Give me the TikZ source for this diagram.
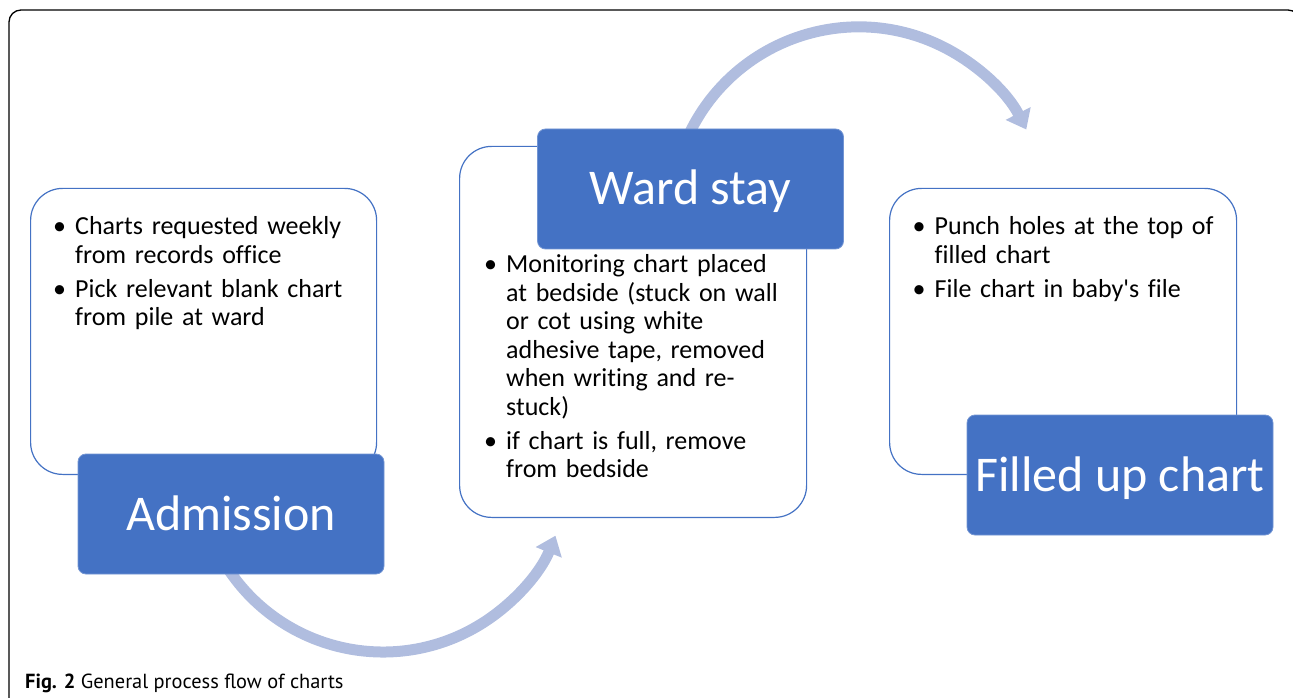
\documentclass[tikz,border=0pt]{standalone}
\usepackage{fontspec}
\setmainfont{Carlito}[Ligatures={TeXOff,CommonOff}]
\newfontfamily\capfont{PT Sans}
\usetikzlibrary{arrows.meta}

\newcommand\bitem{\par\hangindent=22pt\hangafter=1\noindent\strut\makebox[22pt][l]{\textbullet}}

\begin{document}
\begin{tikzpicture}[x=1pt,y=1pt,>=Latex]

\definecolor{boxblue}{RGB}{68,114,196}
\definecolor{arcblue}{RGB}{176,189,223}

\tikzset{
  stepbox/.style={draw=boxblue, line width=1.2pt, fill=white, rounded corners=32pt, anchor=south west},
  headbox/.style={fill=boxblue, draw=boxblue!75!white, line width=0.8pt, rounded corners=8pt,
    minimum width=306pt, minimum height=120pt, inner sep=0pt, text=white,
    font=\fontsize{50}{60}\selectfont, text height=36pt, text depth=4pt},
  notes/.style={anchor=north west, inner sep=0pt, text width=310pt, align=left,
    font=\fontsize{26}{28.5}\selectfont, execute at begin node={\setlength\parskip{5.5pt}}},
  flow/.style={draw=arcblue, line width=11pt, -{Triangle[width=27pt,length=18pt]}}
}

\useasboundingbox (0,0) rectangle (1293,697);
\clip (0,0) rectangle (1293,697);

% frame
\draw[line width=1.3pt, rounded corners=12pt] (9,687) rectangle (1300,-20);

\coordinate (c1) at (383,231);
\coordinate (c2) at (857,483);

% arrows behind the boxes
\draw[flow] ([shift={(212:186)}]c1) arc[start angle=212, end angle=338, radius=186];
\draw[flow] ([shift={(154:186)}]c2) arc[start angle=154, end angle=27, radius=188];

\node[stepbox, minimum width=346pt, minimum height=286pt] (admbox) at (30,222) {};
\node[stepbox, minimum width=347pt, minimum height=371pt] (wardbox) at (459,179) {};
\node[stepbox, minimum width=347pt, minimum height=286pt] (fillbox) at (889,222) {};

\node[notes] (admtxt) at (53,496.5) {%
  \bitem Charts requested weekly\newline from records office
  \bitem Pick relevant blank chart\newline from pile at ward\par};
\node[notes] (wardtxt) at (484,458.5) {%
  \bitem Monitoring chart placed\newline at bedside (stuck on wall\newline or cot using white\newline
    adhesive tape, removed\newline when writing and re-\newline stuck)
  \bitem if chart is full, remove\newline from bedside\par};
\node[notes] (filltxt) at (912.5,496.5) {%
  \bitem Punch holes at the top of\newline filled chart
  \bitem File chart in baby's file\par};

\node[headbox] (adm) at (231,183) {Admission};
\node[headbox] (ward) at (690.5,508) {Ward stay};
\node[headbox] (fill) at (1120,222) {Filled up chart};

\node[anchor=base west, inner sep=0pt, font=\capfont\fontsize{20.4}{24}\selectfont] (cap) at (25,9)
  {\textbf{Fig. 2} General process flow of charts};

\end{tikzpicture}
\end{document}
